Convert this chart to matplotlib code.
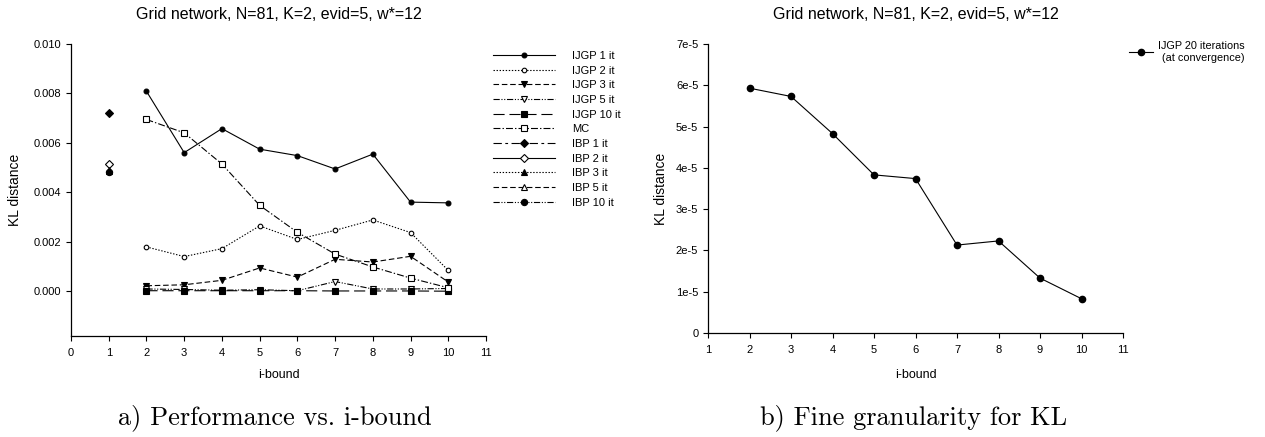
import matplotlib
matplotlib.use("Agg")
import matplotlib.pyplot as plt

plt.rcParams['font.family'] = ['Liberation Sans', 'DejaVu Sans']
plt.rcParams['lines.scale_dashes'] = False

# ---------------- data ----------------
title_text = "Grid network, N=81, K=2, evid=5, w*=12"

ibound = [2, 3, 4, 5, 6, 7, 8, 9, 10]
ijgp_1 = [0.00809, 0.00561, 0.00658, 0.00575, 0.00549, 0.00495, 0.00555, 0.00361, 0.00358]
ijgp_2 = [0.00180, 0.00141, 0.00173, 0.00265, 0.00210, 0.00247, 0.00289, 0.00238, 0.00085]
ijgp_3 = [0.00023, 0.00027, 0.00045, 0.00095, 0.00058, 0.00130, 0.00119, 0.00142, 0.00038]
ijgp_5 = [0.00010, 0.00008, 0.00005, 0.00007, 0.00003, 0.00040, 0.00010, 0.00010, 0.00012]
ijgp_10 = [0.00003, 0.00003, 0.00003, 0.00003, 0.00003, 0.00002, 0.00002, 0.00002, 0.00001]
mc = [0.00695, 0.00641, 0.00515, 0.00348, 0.00239, 0.00151, 0.00099, 0.00054, 0.00015]

ibp_x = [1]
ibp_1 = [0.00723]
ibp_2 = [0.00514]
ibp_3 = [0.00485]
ibp_5 = [0.00490]
ibp_10 = [0.00482]

left_xticks = [0, 1, 2, 3, 4, 5, 6, 7, 8, 9, 10, 11]
left_yticks = [0.000, 0.002, 0.004, 0.006, 0.008, 0.010]
left_yticklabels = ["0.000", "0.002", "0.004", "0.006", "0.008", "0.010"]

ijgp_20 = [5.93e-5, 5.73e-5, 4.83e-5, 3.83e-5, 3.74e-5, 2.13e-5, 2.23e-5, 1.33e-5, 0.83e-5]
right_xticks = [1, 2, 3, 4, 5, 6, 7, 8, 9, 10, 11]
right_yticks = [0, 1e-5, 2e-5, 3e-5, 4e-5, 5e-5, 6e-5, 7e-5]
right_yticklabels = ["0", "1e-5", "2e-5", "3e-5", "4e-5", "5e-5", "6e-5", "7e-5"]

caption_a = "a) Performance vs. i-bound"
caption_b = "b) Fine granularity for KL"

# ---------------- figure ----------------
W, H = 1265, 437
fig = plt.figure(figsize=(W / 100, H / 100), dpi=100)


def px_axes(x0, y0, x1, y1):
    return fig.add_axes([x0 / W, 1 - y1 / H, (x1 - x0) / W, (y1 - y0) / H])


def style_axes(ax):
    for s in ("top", "right"):
        ax.spines[s].set_visible(False)
    for s in ("left", "bottom"):
        ax.spines[s].set_linewidth(0.9)
    ax.tick_params(direction="out", length=3.5, width=0.8, labelsize=8)
    ax.tick_params(axis="x", pad=5)


# ---- left panel ----
ax1 = px_axes(71, 44, 486, 336)
style_axes(ax1)
lw = 0.8
mec = "black"
series = [
    (ibound, ijgp_1, "IJGP 1 it", dict(linestyle="-", marker="o", ms=3.5, mfc="black")),
    (ibound, ijgp_2, "IJGP 2 it", dict(linestyle=(0, (1, 1.2)), marker="o", ms=3.3, mfc="white")),
    (ibound, ijgp_3, "IJGP 3 it", dict(linestyle=(0, (4, 2)), marker="v", ms=5, mfc="black")),
    (ibound, ijgp_5, "IJGP 5 it", dict(linestyle=(0, (4.5, 1.2, 0.8, 1.2, 0.8, 1.2)), marker="v", ms=5, mfc="white")),
    (ibound, ijgp_10, "IJGP 10 it", dict(linestyle=(0, (8, 3.5)), marker="s", ms=4.3, mfc="black")),
    (ibound, mc, "MC", dict(linestyle=(0, (5, 1.5, 1, 1.5)), marker="s", ms=4.3, mfc="white")),
    (ibp_x, ibp_1, "IBP 1 it", dict(linestyle=(0, (6, 2.5, 2, 2.5)), marker="D", ms=4.2, mfc="black")),
    (ibp_x, ibp_2, "IBP 2 it", dict(linestyle="-", marker="D", ms=4.2, mfc="white")),
    (ibp_x, ibp_3, "IBP 3 it", dict(linestyle=(0, (1, 1.2)), marker="^", ms=5, mfc="black")),
    (ibp_x, ibp_5, "IBP 5 it", dict(linestyle=(0, (4, 2)), marker="^", ms=5, mfc="white")),
    (ibp_x, ibp_10, "IBP 10 it", dict(linestyle=(0, (4.5, 1.2, 0.8, 1.2, 0.8, 1.2)), marker="o", ms=4.5, mfc="black")),
]
for xs, ys, lab, kw in series:
    ax1.plot(xs, ys, color="black", lw=lw, mec=mec, mew=0.8, label=lab, **kw)

ax1.set_xlim(0, 11)
ax1.set_ylim(-0.0018, 0.010)
ax1.set_xticks(left_xticks)
ax1.set_yticks(left_yticks)
ax1.set_yticklabels(left_yticklabels)
ax1.set_xlabel("i-bound", fontsize=9, labelpad=8)
ax1.set_ylabel("KL distance", fontsize=10, labelpad=8.5)
ax1.set_title(title_text, fontsize=11.5, pad=18)

leg1 = ax1.legend(loc="upper left", bbox_to_anchor=(493 / W, 1 - 51 / H),
                  bbox_transform=fig.transFigure, frameon=False, fontsize=8,
                  handlelength=5.6, handletextpad=1.5, labelspacing=0.42,
                  borderpad=0, borderaxespad=0)

# ---- right panel ----
ax2 = px_axes(708, 44, 1123, 333)
style_axes(ax2)
ax2.plot(ibound, ijgp_20, color="black", lw=lw, marker="o", ms=4.5, mfc="black",
         mec="black", label="IJGP 20 iterations\n(at convergence)")
ax2.set_xlim(1, 11)
ax2.set_ylim(0, 7e-5)
ax2.set_xticks(right_xticks)
ax2.set_yticks(right_yticks)
ax2.set_yticklabels(right_yticklabels)
ax2.set_xlabel("i-bound", fontsize=9, labelpad=10)
ax2.set_ylabel("KL distance", fontsize=10, labelpad=6)
ax2.set_title(title_text, fontsize=11.5, pad=18)

leg2 = ax2.legend(loc="upper left", bbox_to_anchor=(1129 / W, 1 - 41 / H),
                  bbox_transform=fig.transFigure, frameon=False, fontsize=7.8,
                  handlelength=2.2, handletextpad=0.5, borderpad=0, borderaxespad=0)
for t in leg2.get_texts():
    t.set_multialignment("right")

# ---- captions ----
fig.text(275 / W, 1 - 418 / H, caption_a, ha="center", va="center", fontsize=19, family="cmr10")
fig.text(914 / W, 1 - 418 / H, caption_b, ha="center", va="center", fontsize=19, family="cmr10")

fig.savefig("out.png", dpi=100)
